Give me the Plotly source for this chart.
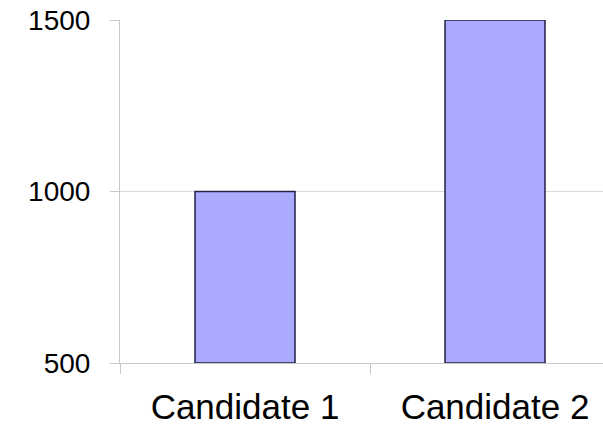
import plotly.graph_objects as go

categories = ["Candidate 1", "Candidate 2"]
values = [1000, 1500]
axis_floor = 500
y_ticks = [500, 1000, 1500]

fig = go.Figure()
fig.add_trace(go.Bar(
    x=categories,
    y=[v - axis_floor for v in values],
    base=axis_floor,
    width=0.4,
    marker=dict(color="#aaaaff", line=dict(color="#222244", width=1.5)),
))

fig.update_layout(
    width=603, height=426,
    margin=dict(l=120, r=0, t=20, b=63),
    paper_bgcolor="white", plot_bgcolor="white",
    showlegend=False,
    font=dict(family="Liberation Sans, Arial, sans-serif", color="black"),
)
fig.update_xaxes(
    range=[-0.5, 1.432],
    showgrid=False,
    showline=True, linecolor="#c8c8c8", linewidth=1,
    ticks="outside", tickson="boundaries", ticklen=10, tickcolor="#c8c8c8",
    tickfont=dict(size=35),
    ticklabelstandoff=13,
)
fig.update_yaxes(
    range=[500, 1500],
    tickvals=y_ticks,
    ticktext=[str(t) for t in y_ticks],
    showgrid=True, gridcolor="#d9d9d9", gridwidth=1,
    showline=True, linecolor="#c8c8c8", linewidth=1,
    ticks="outside", ticklen=9, tickcolor="#c8c8c8",
    tickfont=dict(size=28),
    ticklabelstandoff=14,
    zeroline=False,
)
fig.write_html("out.html")
